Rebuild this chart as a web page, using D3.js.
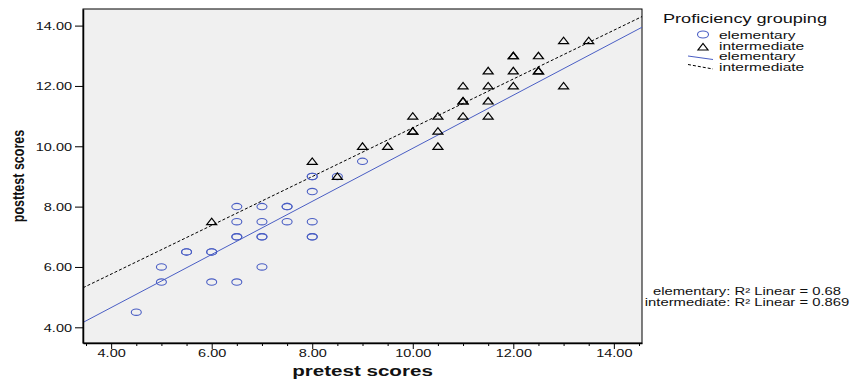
<!DOCTYPE html>
<html>
<head>
    <script src="https://cdn.jsdelivr.net/npm/d3@7/dist/d3.min.js"></script>
</head>

<style>
    body { margin: 0; background: #fff; }
    text { font-family: Arial, "Liberation Sans", sans-serif; fill: #111; }
    .fit { fill: none; stroke-width: 1px; }
</style>

<body>
<div id="chart"></div>

<script>

    // elementary group (duplicates kept where markers overlap)
    var elemPretest  = [4.5, 5, 5, 5.5, 5.5, 6, 6, 6, 6.5, 6.5, 6.5, 6.5, 6.5, 7, 7, 7, 7, 7, 7.5, 7.5, 7.5, 8, 8, 8, 8, 8, 8, 8.5, 9];
    var elemPosttest = [4.5, 6, 5.5, 6.5, 6.5, 6.5, 6.5, 5.5, 8, 7.5, 7, 7, 5.5, 8, 7.5, 7, 7, 6, 8, 8, 7.5, 9, 9, 8.5, 7.5, 7, 7, 9, 9.5];

    // intermediate group
    var interPretest  = [6, 8, 8.5, 9, 9.5, 10, 10, 10, 10.5, 10.5, 10.5, 11, 11, 11, 11, 11.5, 11.5, 11.5, 11.5, 12, 12, 12, 12, 12.5, 12.5, 12.5, 13, 13, 13.5];
    var interPosttest = [7.5, 9.5, 9, 10, 10, 11, 10.5, 10.5, 11, 10.5, 10, 12, 11.5, 11.5, 11, 12.5, 12, 11.5, 11, 13, 13, 12.5, 12, 13, 12.5, 12.5, 13.5, 12, 13.5];

    var groups = ['elementary', 'intermediate'];
    var r2Values = ['0.68', '0.869'];

    var xTicks = [4, 6, 8, 10, 12, 14];
    var yTicks = [4, 6, 8, 10, 12, 14];

    var width = 855, height = 379;
    var plot = { left: 83, right: 642, top: 9, bottom: 343 };
    var stretch = 1.38;   // the original is drawn horizontally stretched

    var blue = '#4a5ec4';

    var xScale = d3.scaleLinear().domain([3.44, 14.56]).range([plot.left, plot.right]);
    var yScale = d3.scaleLinear().domain([3.48, 14.55]).range([plot.bottom, plot.top]);

    var svg = d3.select('#chart').append('svg')
        .attr('width', width)
        .attr('height', height);

    // stretched text helper
    function label(parent, x, y, str, size, sx, anchor, weight) {
        return parent.append('text')
            .attr('transform', 'translate(' + x + ',' + y + ') scale(' + sx + ',1)')
            .attr('text-anchor', anchor || 'start')
            .style('font-size', size + 'px')
            .style('font-weight', weight || 'normal')
            .text(str);
    }

    svg.append('rect')
        .attr('x', plot.left).attr('y', plot.top)
        .attr('width', plot.right - plot.left)
        .attr('height', plot.bottom - plot.top)
        .attr('fill', '#f0f0f0')
        .attr('stroke', '#000')
        .attr('stroke-width', 1);

    svg.append('clipPath').attr('id', 'clip')
        .append('rect')
        .attr('x', plot.left).attr('y', plot.top)
        .attr('width', plot.right - plot.left)
        .attr('height', plot.bottom - plot.top);

    // regression lines
    function fit(xs, ys) {
        var mx = d3.mean(xs), my = d3.mean(ys);
        var sxy = d3.sum(xs, function(d, i) { return (d - mx) * (ys[i] - my); });
        var sxx = d3.sum(xs, function(d) { return (d - mx) * (d - mx); });
        var b = sxy / sxx;
        return { a: my - b * mx, b: b };
    }

    var line = d3.line()
        .x(function(d) { return xScale(d[0]); })
        .y(function(d) { return yScale(d[1]); });

    var ends = xScale.domain();
    var fits = [fit(elemPretest, elemPosttest), fit(interPretest, interPosttest)];

    var lines = svg.append('g').attr('clip-path', 'url(#clip)');
    fits.forEach(function(f, i) {
        lines.append('path')
            .datum(ends.map(function(v) { return [v, f.a + f.b * v]; }))
            .attr('class', 'fit')
            .attr('stroke', i == 0 ? blue : '#000')
            .attr('stroke-dasharray', i == 0 ? null : '3,2')
            .attr('d', line);
    });

    // markers
    var tri = 'M-5,3L5,3L0,-3.5Z';

    svg.append('g').selectAll('ellipse')
        .data(elemPretest)
        .enter()
        .append('ellipse')
        .attr('cx', function(d) { return xScale(d); })
        .attr('cy', function(d, i) { return yScale(elemPosttest[i]); })
        .attr('rx', 5)
        .attr('ry', 3.2)
        .attr('fill', 'none')
        .attr('stroke', blue)
        .attr('stroke-width', 1.1);

    svg.append('g').selectAll('path')
        .data(interPretest)
        .enter()
        .append('path')
        .attr('d', tri)
        .attr('transform', function(d, i) { return 'translate(' + xScale(d) + ',' + yScale(interPosttest[i]) + ')'; })
        .attr('fill', 'none')
        .attr('stroke', '#000')
        .attr('stroke-width', 1.2);

    // axes
    var xAxis = svg.append('g')
        .attr('transform', 'translate(0,' + plot.bottom + ')')
        .call(d3.axisBottom(xScale).tickValues(xTicks).tickFormat(d3.format('.2f')).tickSize(6).tickSizeOuter(0));
    xAxis.select('.domain').attr('stroke-width', 1.5);
    xAxis.selectAll('text')
        .attr('y', null).attr('dy', null)
        .attr('transform', 'translate(0,14) scale(' + stretch + ',1)')
        .style('font-size', '10.5px').style('font-family', 'Arial, "Liberation Sans", sans-serif');

    var minor = d3.range(3.5, 14.6, 0.5).filter(function(v) { return v % 2 != 0; });
    svg.append('g')
        .attr('transform', 'translate(0,' + plot.bottom + ')')
        .call(d3.axisBottom(xScale).tickValues(minor).tickFormat('').tickSize(3).tickSizeOuter(0))
        .select('.domain').remove();

    var yAxis = svg.append('g')
        .attr('transform', 'translate(' + plot.left + ',0)')
        .call(d3.axisLeft(yScale).tickValues(yTicks).tickFormat(d3.format('.2f')).tickSize(8).tickSizeOuter(0));
    yAxis.select('.domain').attr('stroke-width', 1.5);
    yAxis.selectAll('text')
        .attr('x', null).attr('dy', null)
        .attr('transform', 'translate(-11,4) scale(' + stretch + ',1)')
        .style('font-size', '10.5px').style('font-family', 'Arial, "Liberation Sans", sans-serif');

    // axis titles
    label(svg, (plot.left + plot.right) / 2, 376, 'pretest scores', 14, 1.47, 'middle', 'bold');

    svg.append('text')
        .attr('transform', 'translate(24,' + (plot.top + plot.bottom) / 2 + ') scale(1.3,1) rotate(-90)')
        .attr('text-anchor', 'middle')
        .style('font-size', '12.5px')
        .style('font-weight', 'bold')
        .text('posttest scores');

    // legend
    var legend = svg.append('g');
    label(legend, 663, 23, 'Proficiency grouping', 12.5, 1.45);

    legend.append('ellipse')
        .attr('cx', 703).attr('cy', 34.5).attr('rx', 5.5).attr('ry', 3.5)
        .attr('fill', 'none').attr('stroke', blue).attr('stroke-width', 1.1);
    legend.append('path')
        .attr('d', tri).attr('transform', 'translate(703,47)')
        .attr('fill', 'none').attr('stroke', '#000').attr('stroke-width', 1.2);
    legend.append('line')
        .attr('x1', 688).attr('y1', 56).attr('x2', 713).attr('y2', 59.5)
        .attr('stroke', blue).attr('stroke-width', 1);
    legend.append('line')
        .attr('x1', 688).attr('y1', 64.5).attr('x2', 713).attr('y2', 69)
        .attr('stroke', '#000').attr('stroke-width', 1).attr('stroke-dasharray', '3,2');

    var itemY = [39, 49.5, 60, 70.5];
    var itemText = groups.concat(groups);
    itemText.forEach(function(t, i) {
        label(legend, 719, itemY[i], t, 10, 1.55);
    });

    // R squared notes
    groups.forEach(function(g, i) {
        label(svg, 747, 295 + i * 10.5, g + ': R\u00b2 Linear = ' + r2Values[i], 10, 1.48, 'middle');
    });

</script>
</body>
</html>
